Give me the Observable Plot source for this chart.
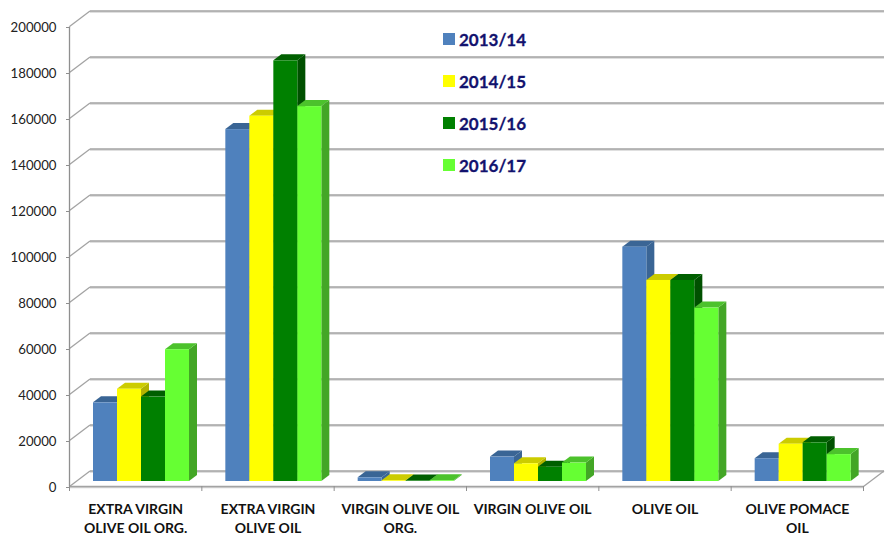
<!DOCTYPE html>
<html>
<head>
<meta charset="utf-8">
<script src="https://cdn.jsdelivr.net/npm/d3@7"></script>
<script src="https://cdn.jsdelivr.net/npm/@observablehq/plot@0.6"></script>
<style>
  html, body { margin: 0; padding: 0; background: #fff; }
  #chart { position: relative; width: 886px; height: 535px; overflow: hidden; }
  #chart svg { display: block; overflow: visible; }
  #legend { position: absolute; left: 443px; top: 18px; font: bold 17px Lato, sans-serif; color: #12126e; -webkit-text-stroke: 0.3px #12126e; }
  #legend div { display: flex; align-items: center; height: 42px; }
  #legend i { display: block; width: 12px; height: 12px; margin-right: 4px; }
</style>
</head>
<body>
<div id="chart"></div>
<script>
const categories = [
  "EXTRA VIRGIN\nOLIVE OIL ORG.",
  "EXTRA VIRGIN\nOLIVE OIL",
  "VIRGIN OLIVE OIL\nORG.",
  "VIRGIN OLIVE OIL",
  "OLIVE OIL",
  "OLIVE POMACE\nOIL"
];
const seasons = ["2013/14", "2014/15", "2015/16", "2016/17"];
const values2013 = [34200, 153000, 1600, 10600, 101900, 9900];
const values2014 = [40100, 158800, 300, 7700, 87400, 16200];
const values2015 = [36700, 182900, 200, 6200, 87400, 16800];
const values2016 = [57300, 163000, 300, 8000, 75400, 11700];
const seriesValues = [values2013, values2014, values2015, values2016];
const yTicks = d3.range(0, 200001, 20000);

const frontColors = ["#4f81bd", "#ffff00", "#008000", "#66ff33"];
const topColors = ["#3a6595", "#cccc00", "#005f00", "#4cc22c"];
const sideColors = ["#3a6595", "#b3b300", "#005000", "#43a626"];
const gridColor = "#a3a3a3";
const gridShadow = "#d4d4d4";

// oblique projection constants, in data units of the two scales
const unitsPerPx = {x: 6 / 794, y: 200000 / 460};
const wallX = 20.5 * unitsPerPx.x, wallY = 15.5 * unitsPerPx.y;
const barDepthX = 8 * unitsPerPx.x, barDepthY = 6 * unitsPerPx.y;
const barWidth = 24 * unitsPerPx.x, barStart = 24 * unitsPerPx.x;
const floorY = 5 * unitsPerPx.y;

const marks = [];

// wall and floor
const backLine = (dy, stroke, w) => Plot.link(yTicks, {
  x1: wallX, x2: 6 + wallX, y1: d => d + wallY, y2: d => d + wallY,
  dy, stroke, strokeWidth: w
});
marks.push(backLine(1, gridShadow, 1.4), backLine(0, gridColor, 1.5));
marks.push(Plot.link(yTicks, {x1: 0, x2: wallX, y1: d => d, y2: d => d + wallY, stroke: gridColor, strokeWidth: 1.3}));
marks.push(Plot.link([0], {x1: 6, x2: 6 + wallX, y1: 0, y2: wallY, stroke: gridColor, strokeWidth: 1.3}));
marks.push(Plot.link([0], {x1: 0, x2: 6, y1: 0, y2: 0, dy: 1, stroke: gridShadow, strokeWidth: 1.4}));
marks.push(Plot.link([0], {x1: 0, x2: 6, y1: 0, y2: 0, stroke: gridColor, strokeWidth: 1.5}));
marks.push(Plot.link([0], {x1: 0, x2: 0, y1: 0, y2: 200000, stroke: "#8f8f8f", strokeWidth: 1.3}));

// bars: side face, top face, then front face, season by season
seasons.forEach((season, s) => {
  const bar = categories.map((c, i) => {
    const x0 = i + barStart + s * barWidth;
    return {i, x0, x1: x0 + barWidth, y0: floorY, y1: seriesValues[s][i] + floorY};
  });
  const side = bar.flatMap(r => [
    {z: r.i, x: r.x1, y1: r.y0, y2: r.y1},
    {z: r.i, x: r.x1 + barDepthX, y1: r.y0 + barDepthY, y2: r.y1 + barDepthY}
  ]);
  const top = bar.flatMap(r => [
    {z: r.i, y: r.y1, x1: r.x0, x2: r.x1},
    {z: r.i, y: r.y1 + barDepthY, x1: r.x0 + barDepthX, x2: r.x1 + barDepthX}
  ]);
  marks.push(Plot.areaY(side, {x: "x", y1: "y1", y2: "y2", z: "z", fill: sideColors[s]}));
  marks.push(Plot.areaX(top, {y: "y", x1: "x1", x2: "x2", z: "z", fill: topColors[s]}));
  marks.push(Plot.rect(bar, {x1: "x0", x2: "x1", y1: "y0", y2: "y1", fill: frontColors[s]}));
});

// axes
marks.push(Plot.axisY(yTicks, {
  anchor: "left", tickSize: 3, tickPadding: 10, tickFormat: d => String(d),
  stroke: "#8f8f8f", fill: "#222", textStroke: "none", fontSize: 13.2, label: null, dy: 1
}));
marks.push(Plot.axisX(d3.range(7), {
  anchor: "bottom", tickSize: 5, tickFormat: () => "", stroke: "#8f8f8f", label: null
}));
marks.push(Plot.axisX(d3.range(6).map(i => i + 0.5), {
  anchor: "bottom", tickSize: 0, tickPadding: 13, lineHeight: 1.42,
  tickFormat: d => categories[d - 0.5], fill: "#111", textStroke: "none",
  fontSize: 14, fontWeight: "bold", label: null
}));

const chart = Plot.plot({
  width: 886, height: 535,
  marginLeft: 69, marginRight: 23, marginTop: 26, marginBottom: 49,
  x: {domain: [0, 6], axis: null},
  y: {domain: [0, 200000], axis: null},
  style: {fontFamily: "Lato, sans-serif", background: "#fff", overflow: "visible"},
  marks
});
const root = document.getElementById("chart");
root.appendChild(chart);

const legend = document.createElement("div");
legend.id = "legend";
seasons.forEach((season, s) => {
  const row = document.createElement("div");
  const key = document.createElement("i");
  key.style.background = frontColors[s];
  row.appendChild(key);
  row.appendChild(document.createTextNode(season));
  legend.appendChild(row);
});
root.appendChild(legend);
</script>
</body>
</html>
